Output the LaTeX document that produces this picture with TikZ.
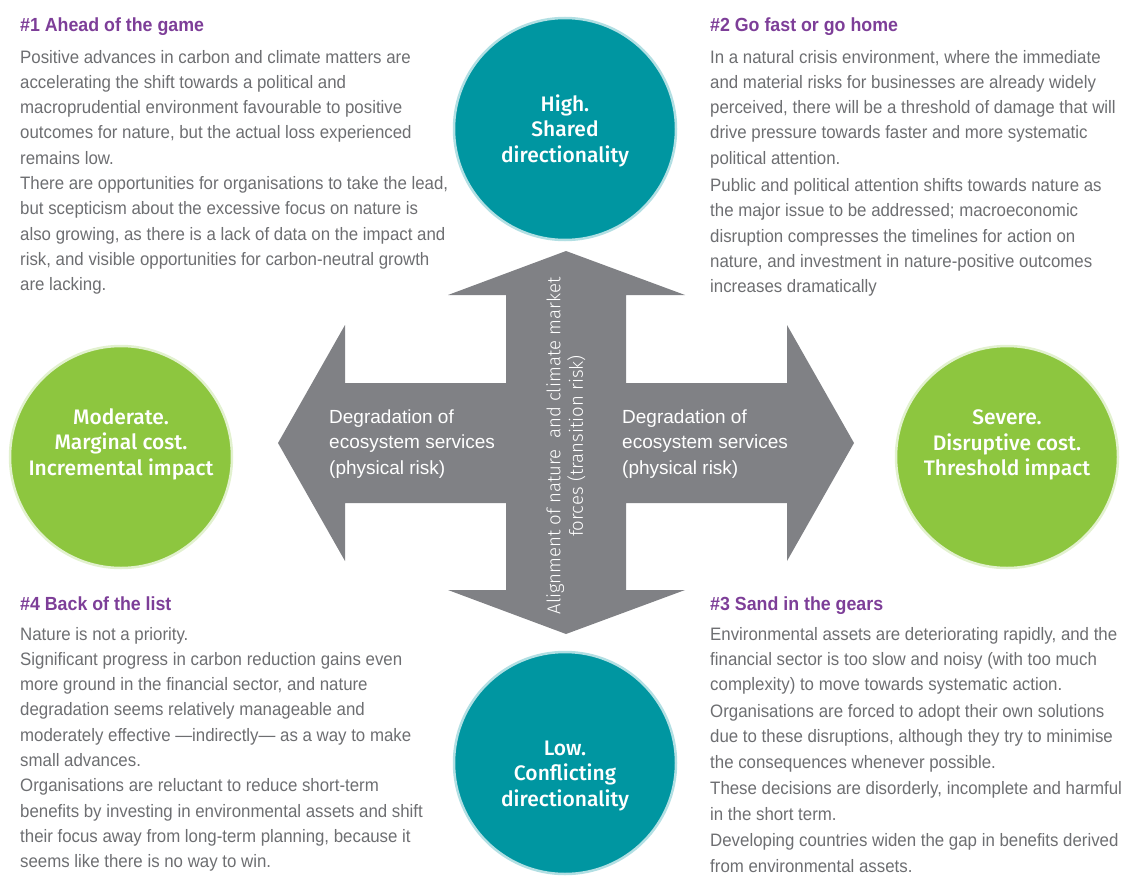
\documentclass[tikz,border=0pt]{standalone}
\usepackage{fontspec}
\newfontfamily\bodyfont{Liberation Sans}[FakeStretch=0.936]
\newfontfamily\riskfont{Liberation Sans}
\newfontfamily\discfont{Fira Sans Medium}
\newfontfamily\axisfont{Fira Sans Light}

\definecolor{bodygray}{RGB}{109,110,113}
\definecolor{headpurple}{RGB}{125,62,152}
\definecolor{crossgray}{RGB}{128,129,133}
\definecolor{discteal}{RGB}{0,150,161}
\definecolor{discgreen}{RGB}{141,198,63}

\begin{document}
\begin{tikzpicture}[x=1pt,y=-1pt,
    heading/.style={anchor=base west,inner sep=0pt,text=headpurple,
      font=\fontsize{19}{25.3}\selectfont\bodyfont\bfseries},
    % anchored on the baseline of the last line
    scenario/.style={anchor=base west,inner sep=0pt,align=left,text=bodygray,
      font=\fontsize{18}{25.3}\selectfont\bodyfont},
    disc/.style={circle,minimum size=222pt,inner sep=0pt,line width=2.5pt},
    disctext/.style={align=center,text=white,inner sep=0pt,
      font=\fontsize{21}{25.5}\selectfont\discfont},
    risk/.style={anchor=base west,inner sep=0pt,align=left,text=white,
      font=\fontsize{19}{25.5}\selectfont\riskfont}]
  \useasboundingbox (0,0) rectangle (1121,883);

  % the cross of double arrows
  \fill[crossgray] (566,251) -- (685,295) -- (626,295) -- (626,383) -- (787,383)
    -- (787,325) -- (854,443) -- (787,561) -- (787,503) -- (626,503) -- (626,590)
    -- (685,590) -- (566,634) -- (448,590) -- (506,590) -- (506,503) -- (345,503)
    -- (345,561) -- (278,443) -- (345,325) -- (345,383) -- (506,383) -- (506,295)
    -- (448,295) -- cycle;
  \node[risk] (riskW) at (329,474) {Degradation of\\ecosystem services\\(physical risk)};
  \node[risk] (riskE) at (622,474) {Degradation of\\ecosystem services\\(physical risk)};
  \node[rotate=90,align=center,text=white,inner sep=0pt,
    font=\fontsize{18.6}{22.5}\selectfont\axisfont] (axis) at (566,446)
    {Alignment of nature~ and climate market\\forces (transition risk)};

  % the four discs
  \node[disc,fill=discteal,draw=discteal!30!white] (high) at (565,129) {};
  \node[disctext] at ([yshift=-1.5pt]high.center) {High.\\Shared\\directionality};
  \node[disc,fill=discteal,draw=discteal!30!white] (low) at (565,763) {};
  \node[disctext] at ([yshift=-13pt]low.center) {Low.\\Conflicting\\directionality};
  \node[disc,fill=discgreen,draw=discgreen!25!white] (moderate) at (121,457) {};
  \node[disctext] at ([yshift=13pt]moderate.center)
    {Moderate.\\Marginal cost.\\Incremental impact};
  \node[disc,fill=discgreen,draw=discgreen!25!white] (severe) at (1007,457) {};
  \node[disctext] at ([yshift=12pt]severe.center)
    {Severe.\\Disruptive cost.\\Threshold impact};

  % scenario #1
  \node[heading] (head1) at (20,31.7) {\#1 Ahead of the game};
  \node[scenario] (text1) at (20,290.7) {Positive advances in carbon and climate matters are\\
    accelerating the shift towards a political and\\
    macroprudential environment favourable to positive\\
    outcomes for nature, but the actual loss experienced\\
    remains low.\\
    There are opportunities for organisations to take the lead,\\
    but scepticism about the excessive focus on nature is\\
    also growing, as there is a lack of data on the impact and\\
    risk, and visible opportunities for carbon-neutral growth\\
    are lacking.};

  % scenario #2
  \node[heading] (head2) at (710,31.7) {\#2 Go fast or go home};
  \node[scenario] (text2) at (710,292.7) {In a natural crisis environment, where the immediate\\
    and material risks for businesses are already widely\\
    perceived, there will be a threshold of damage that will\\
    drive pressure towards faster and more systematic\\
    political attention.\\[2pt]
    Public and political attention shifts towards nature as\\
    the major issue to be addressed; macroeconomic\\
    disruption compresses the timelines for action on\\
    nature, and investment in nature-positive outcomes\\
    increases dramatically};

  % scenario #3
  \node[heading] (head3) at (710,610) {\#3 Sand in the gears};
  \node[scenario] (text3) at (710,872.2) {Environmental assets are deteriorating rapidly, and the\\
    financial sector is too slow and noisy (with too much\\
    complexity) to move towards systematic action.\\[1.5pt]
    Organisations are forced to adopt their own solutions\\
    due to these disruptions, although they try to minimise\\
    the consequences whenever possible.\\[1.5pt]
    These decisions are disorderly, incomplete and harmful\\
    in the short term.\\[1.5pt]
    Developing countries widen the gap in benefits derived\\
    from environmental assets.};

  % scenario #4
  \node[heading] (head4) at (20,610) {\#4 Back of the list};
  \node[scenario] (text4) at (20,867.7) {Nature is not a priority.\\
    Significant progress in carbon reduction gains even\\
    more ground in the financial sector, and nature\\
    degradation seems relatively manageable and\\
    moderately effective —indirectly— as a way to make\\
    small advances.\\
    Organisations are reluctant to reduce short-term\\
    benefits by investing in environmental assets and shift\\
    their focus away from long-term planning, because it\\
    seems like there is no way to win.};
\end{tikzpicture}
\end{document}
